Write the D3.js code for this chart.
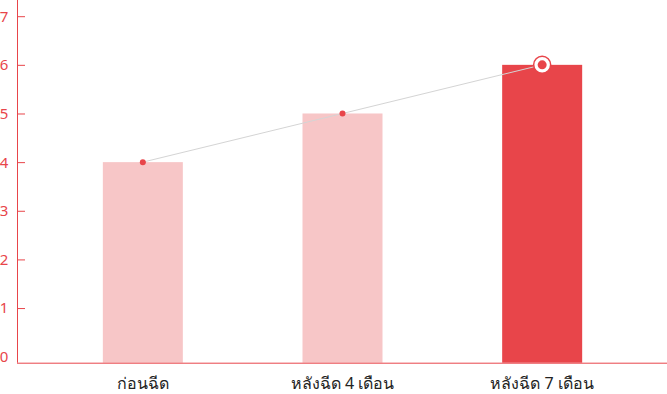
<!DOCTYPE html>
<html><head><meta charset="utf-8">
<script src="https://cdn.jsdelivr.net/npm/d3@7/dist/d3.min.js"></script>
<style>body{margin:0;background:#fff;}svg{display:block;font-family:"Noto Sans",sans-serif;}</style>
</head><body><svg id="c" width="667" height="394"></svg>
<script>
const categories = ["ก่อนฉีด", "หลังฉีด 4 เดือน", "หลังฉีด 7 เดือน"];
const values = [4, 5, 6];
const yTicks = [0, 1, 2, 3, 4, 5, 6, 7];
const barColors = ["#f7c6c7", "#f7c6c7", "#e8454a"];

const svg = d3.select("#c");
const red = "#e8454a";
const x = d3.scaleBand().domain(categories).range([43, 642]).paddingInner(0).paddingOuter(0);
const y = d3.scaleLinear().domain([0, 7]).range([356.7, 16.2]);
const baseline = y(0) + 6;
const bw = 80;

// bars
svg.selectAll("rect.bar").data(values).join("rect")
  .attr("x", (d, i) => x(categories[i]) + x.bandwidth() / 2 - bw / 2)
  .attr("y", d => y(d))
  .attr("width", bw)
  .attr("height", d => baseline - y(d))
  .attr("fill", (d, i) => barColors[i]);

// y axis
const yAxis = d3.axisRight(y).tickValues(yTicks.slice(1)).tickSize(8).tickFormat("");
const gy = svg.append("g").attr("transform", "translate(17,0)").call(yAxis);
gy.select(".domain").remove();
gy.selectAll("line").attr("stroke", red).attr("stroke-width", 1);
svg.append("line").attr("x1", 17.5).attr("x2", 17.5).attr("y1", 0).attr("y2", baseline).attr("stroke", red);
svg.selectAll("text.ylab").data(yTicks).join("text").attr("class", "ylab")
  .attr("x", 4).attr("y", d => y(d)).attr("dy", "0.36em")
  .attr("text-anchor", "middle").attr("fill", red).attr("font-size", 15).text(d => d);

// x axis
svg.append("line").attr("x1", 17).attr("x2", 667).attr("y1", baseline + 0.5).attr("y2", baseline + 0.5).attr("stroke", red);
svg.selectAll("text.xlab").data(categories).join("text").attr("class", "xlab")
  .attr("x", d => x(d) + x.bandwidth() / 2).attr("y", 389)
  .attr("text-anchor", "middle").attr("fill", "#222").attr("font-size", 16).text(d => d);

// line
const line = d3.line().x((d, i) => x(categories[i]) + x.bandwidth() / 2).y(d => y(d));
svg.append("path").datum(values).attr("d", line).attr("fill", "none").attr("stroke", "#d4d4d4").attr("stroke-width", 1);

// points
const last = values.length - 1;
svg.append("circle").attr("cx", x(categories[last]) + x.bandwidth() / 2).attr("cy", y(values[last]))
  .attr("r", 8.5).attr("fill", "#fff").attr("stroke", red).attr("stroke-width", 1.5);
svg.selectAll("circle.pt").data(values).join("circle").attr("class", "pt")
  .attr("cx", (d, i) => x(categories[i]) + x.bandwidth() / 2).attr("cy", d => y(d))
  .attr("r", (d, i) => i === last ? 4.5 : 3).attr("fill", red);
</script></body></html>
